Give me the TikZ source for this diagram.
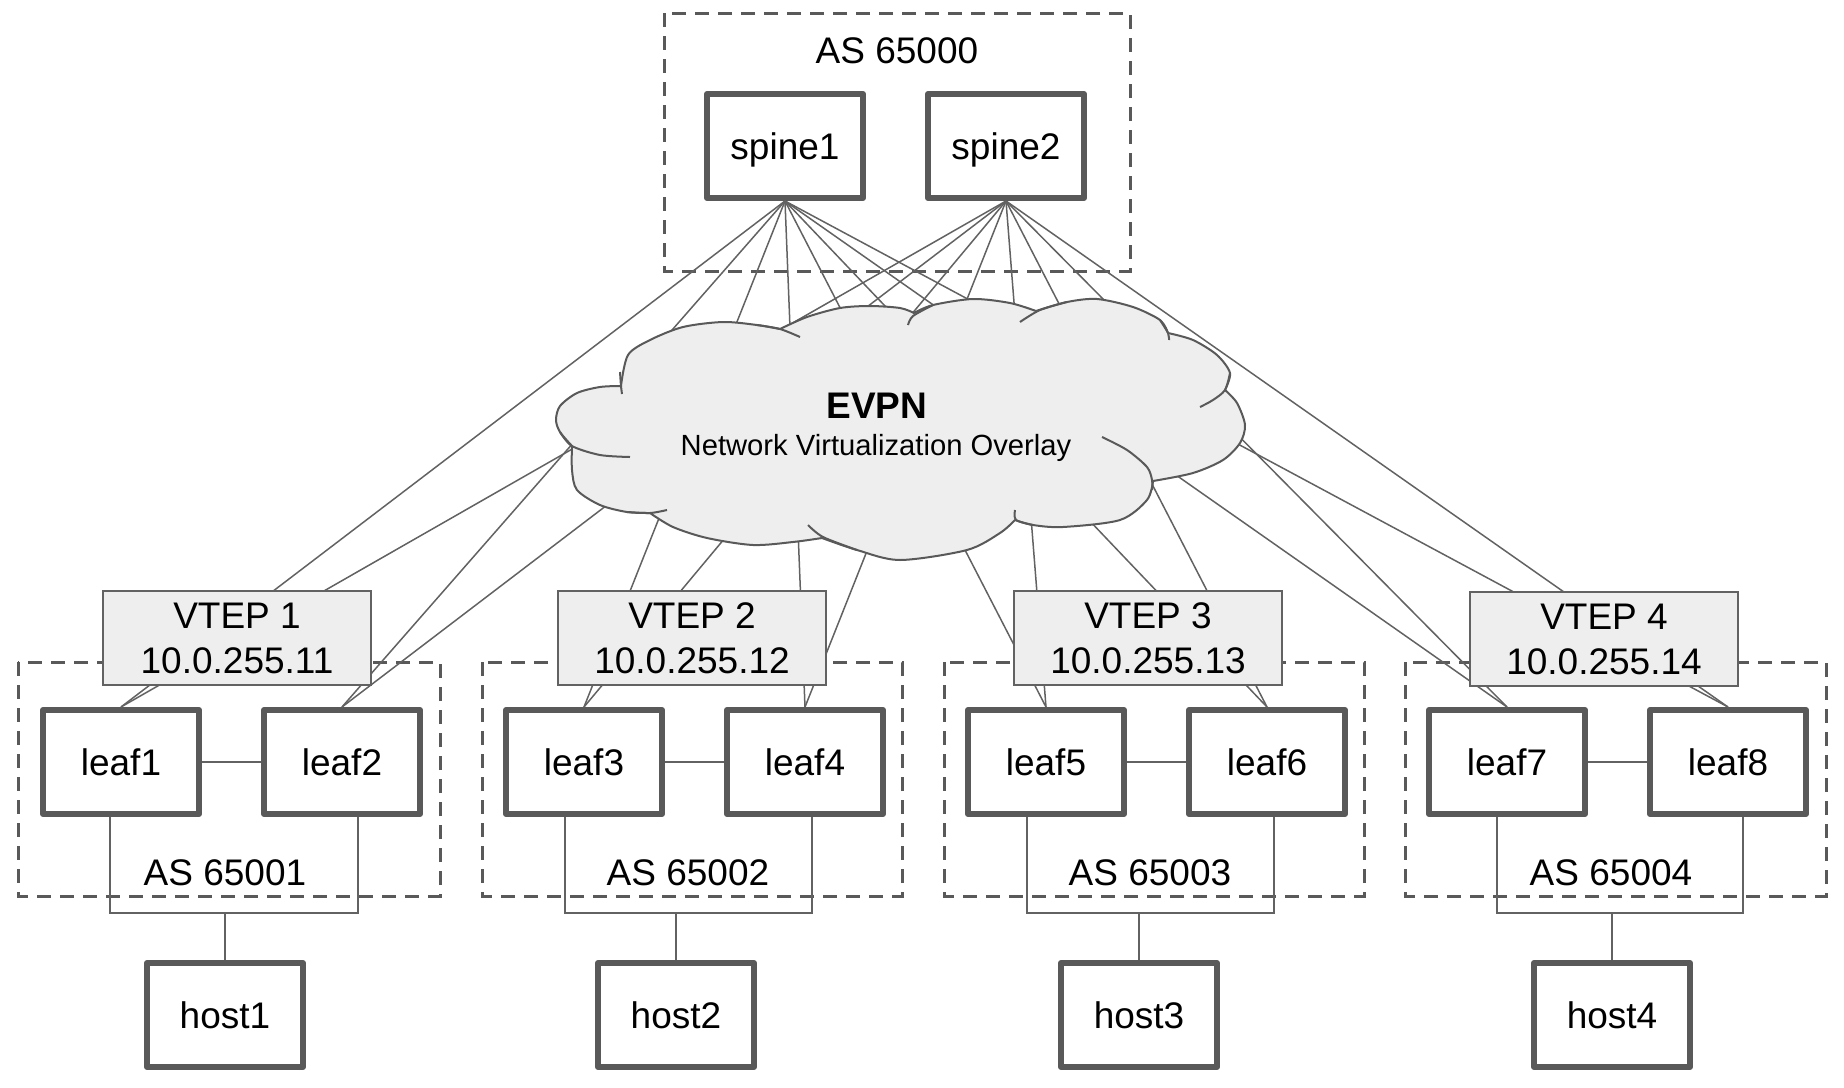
\documentclass[tikz,border=0pt]{standalone}
\usepackage{fontspec}
\setmainfont{Liberation Sans}
\definecolor{gris}{HTML}{595959}
\definecolor{grislien}{HTML}{626262}
\definecolor{fond}{HTML}{EEEEEE}
\begin{document}
\begin{tikzpicture}[x=0.5pt, y=-0.5pt,
	boite/.style={draw=gris, line width=3pt, line join=round, fill=white, minimum width=78pt, minimum height=52pt, text depth=0pt, font=\fontsize{18.5}{22.5}\selectfont},
	vtep/.style={draw=grislien, line width=0.75pt, fill=fond, minimum width=134pt, minimum height=47pt, inner sep=0pt, align=center, font=\fontsize{18.5}{22.5}\selectfont},
	zone/.style={draw=gris, line width=1.5pt, dash pattern=on 7pt off 4.5pt},
	etiq/.style={anchor=base, inner sep=0pt, font=\fontsize{18.5}{22.5}\selectfont},
	lien/.style={draw=grislien, line width=0.75pt},
	nuage/.style={fill=fond, draw=gris, line width=1pt, line join=round}]
	\useasboundingbox (0,0) rectangle (1844,1088);
	%Zones AS (cadres en pointillés)
	\draw[zone] (664,13) rectangle (1130,271);
	\draw[zone] (18,662) rectangle (440,896);
	\draw[zone] (482,662) rectangle (902,896);
	\draw[zone] (944,662) rectangle (1364,896);
	\draw[zone] (1405,662) rectangle (1826,896);
	\node[etiq] (AS0) at (897,63) {AS 65000};
	\node[etiq] (AS1) at (225,885) {AS 65001};
	\node[etiq] (AS2) at (688,885) {AS 65002};
	\node[etiq] (AS3) at (1150,885) {AS 65003};
	\node[etiq] (AS4) at (1611,885) {AS 65004};
	
	%Spines, leafs et hosts
	\node[boite] (spine1) at (785,146) {spine1};
	\node[boite] (spine2) at (1006,146) {spine2};
	
	\node[boite] (leaf1) at (121,762) {leaf1};
	\node[boite] (leaf2) at (342,762) {leaf2};
	\node[boite] (leaf3) at (584,762) {leaf3};
	\node[boite] (leaf4) at (805,762) {leaf4};
	\node[boite] (leaf5) at (1046,762) {leaf5};
	\node[boite] (leaf6) at (1267,762) {leaf6};
	\node[boite] (leaf7) at (1507,762) {leaf7};
	\node[boite] (leaf8) at (1728,762) {leaf8};
	
	\node[boite] (host1) at (225,1015) {host1};
	\node[boite] (host2) at (676,1015) {host2};
	\node[boite] (host3) at (1139,1015) {host3};
	\node[boite] (host4) at (1612,1015) {host4};
	
	%Liens spine - leaf
	\draw[lien] (spine1.south) -- (leaf1.north);
	\draw[lien] (spine1.south) -- (leaf2.north);
	\draw[lien] (spine1.south) -- (leaf3.north);
	\draw[lien] (spine1.south) -- (leaf4.north);
	\draw[lien] (spine1.south) -- (leaf5.north);
	\draw[lien] (spine1.south) -- (leaf6.north);
	\draw[lien] (spine1.south) -- (leaf7.north);
	\draw[lien] (spine1.south) -- (leaf8.north);
	
	\draw[lien] (spine2.south) -- (leaf1.north);
	\draw[lien] (spine2.south) -- (leaf2.north);
	\draw[lien] (spine2.south) -- (leaf3.north);
	\draw[lien] (spine2.south) -- (leaf4.north);
	\draw[lien] (spine2.south) -- (leaf5.north);
	\draw[lien] (spine2.south) -- (leaf6.north);
	\draw[lien] (spine2.south) -- (leaf7.north);
	\draw[lien] (spine2.south) -- (leaf8.north);
	
	%Liens leaf - leaf et leaf - host
	\draw[lien] (leaf1) -- (leaf2);
	\draw[lien] (leaf3) -- (leaf4);
	\draw[lien] (leaf5) -- (leaf6);
	\draw[lien] (leaf7) -- (leaf8);
	
	\coordinate (bus1) at (225,913);
	\coordinate (bus2) at (676,913);
	\coordinate (bus3) at (1139,913);
	\coordinate (bus4) at (1612,913);
	\draw[lien] ([xshift=-5.5pt]leaf1.south) |- (bus1) -| ([xshift=8pt]leaf2.south);
	\draw[lien] ([xshift=-9.5pt]leaf3.south) |- (bus2) -| ([xshift=3.5pt]leaf4.south);
	\draw[lien] ([xshift=-9.5pt]leaf5.south) |- (bus3) -| ([xshift=3.5pt]leaf6.south);
	\draw[lien] ([xshift=-5pt]leaf7.south) |- (bus4) -| ([xshift=7.5pt]leaf8.south);
	\draw[lien] (bus1) -- (host1);
	\draw[lien] (bus2) -- (host2);
	\draw[lien] (bus3) -- (host3);
	\draw[lien] (bus4) -- (host4);
	
	%Nuage EVPN
	\filldraw[nuage] plot[smooth] coordinates {(621,386) (628,355) (650,340) (683,327) (723,322) (757,325) (780,329)}
		-- plot[smooth] coordinates {(780,329) (807,317) (840,308) (870,306) (900,308) (914,313)}
		-- plot[smooth] coordinates {(914,313) (933,305) (973,299) (1010,303) (1036,311)}
		-- plot[smooth] coordinates {(1036,311) (1067,302) (1097,299) (1133,307) (1160,320) (1168,333)}
		-- plot[smooth] coordinates {(1168,333) (1193,340) (1217,355) (1230,373) (1225,390)}
		-- plot[smooth] coordinates {(1225,390) (1237,403) (1245,425) (1240,443) (1223,460) (1193,473) (1153,481)}
		-- plot[smooth] coordinates {(1153,481) (1147,500) (1120,520) (1063,527) (1033,525) (1015,520)}
		-- plot[smooth] coordinates {(1015,520) (1000,533) (967,550) (900,560) (857,550) (822,538)}
		-- plot[smooth] coordinates {(822,538) (793,542) (753,545) (707,538) (673,527) (650,513)}
		-- plot[smooth] coordinates {(650,513) (627,512) (600,505) (577,490) (572,470) (572,446)}
		-- plot[smooth] coordinates {(572,446) (560,432) (556,420) (560,406) (577,393) (600,387) (621,386)}
		-- cycle;
	\draw[nuage, fill=none] plot[smooth] coordinates {(620,372) (621,386) (622,394)};
	\draw[nuage, fill=none] plot[smooth] coordinates {(757,325) (780,329) (800,337)};
	\draw[nuage, fill=none] plot[smooth] coordinates {(933,305) (913,316) (908,325)};
	\draw[nuage, fill=none] plot[smooth] coordinates {(1067,302) (1040,310) (1020,322)};
	\draw[nuage, fill=none] plot[smooth] coordinates {(1160,320) (1168,333) (1169,340)};
	\draw[nuage, fill=none] plot[smooth] coordinates {(1230,373) (1225,390) (1213,400) (1200,407)};
	\draw[nuage, fill=none] plot[smooth] coordinates {(1152,490) (1152,480) (1147,467) (1127,450) (1102,437)};
	\draw[nuage, fill=none] plot[smooth] coordinates {(1033,525) (1016,520) (1015,510)};
	\draw[nuage, fill=none] plot[smooth] coordinates {(857,550) (823,537) (808,525)};
	\draw[nuage, fill=none] plot[smooth] coordinates {(627,512) (650,513) (667,510)};
	\draw[nuage, fill=none] plot[smooth] coordinates {(560,432) (572,446) (600,455) (630,457)};
	\node[etiq, font=\fontsize{18.5}{22.5}\selectfont\bfseries] (evpn) at (877,418) {EVPN};
	\node[etiq, font=\fontsize{14.6}{17}\selectfont] (overlay) at (876,455) {Network Virtualization Overlay};
	
	%VTEP
	\node[vtep] (vtep1) at (237,638) {VTEP 1\\10.0.255.11};
	\node[vtep] (vtep2) at (692,638) {VTEP 2\\10.0.255.12};
	\node[vtep] (vtep3) at (1148,638) {VTEP 3\\10.0.255.13};
	\node[vtep] (vtep4) at (1604,639) {VTEP 4\\10.0.255.14};
\end{tikzpicture}
\end{document}
